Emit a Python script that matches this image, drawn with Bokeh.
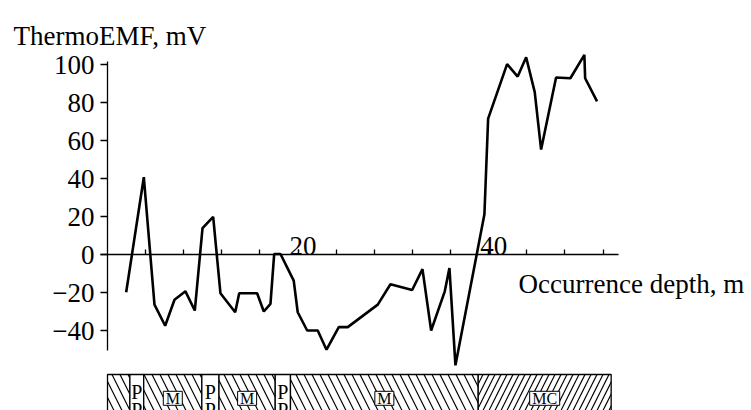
from bokeh.plotting import figure
from bokeh.models import LinearAxis, FixedTicker, Label, Range1d, ColumnDataSource
from bokeh.embed import file_html
from bokeh.resources import INLINE
from bokeh.core.properties import value

# ---- data ----
depth = [1.96, 3.81, 4.93, 6.05, 7.03, 8.18, 9.16, 9.97, 11.09, 11.85, 13.40, 13.82,
         15.70, 16.40, 17.10, 17.49, 18.15, 19.54, 19.96, 20.95, 22.06, 22.98, 24.27,
         25.21, 28.36, 29.69, 31.97, 33.05, 33.96, 35.39, 35.88, 36.51, 39.55, 39.94,
         41.93, 43.04, 43.93, 44.83, 45.50, 47.07, 48.57, 50.04, 50.12, 51.37]
emf = [-19.7, 40.8, -26.2, -37.3, -23.6, -19.2, -29.3, 14.0, 19.9, -20.2, -30.2, -20.2,
       -20.2, -29.8, -25.8, 0.4, 0.4, -13.6, -30.2, -39.8, -39.8, -49.9, -38.0,
       -38.0, -26.2, -15.5, -18.5, -7.5, -39.8, -19.2, -7.0, -58.1, 21.3, 71.6,
       100.2, 93.7, 103.8, 85.5, 55.3, 93.2, 92.8, 105.1, 92.8, 80.6]

y_ticks = [-40, -20, 0, 20, 40, 60, 80, 100]
x_major_ticks = [20, 40]
x_tick_labels = ["20", "40"]
x_minor_ticks = [4, 8, 12, 16, 20, 24, 28, 32, 36, 40, 44, 48, 52]

# lithology column (depth boundaries, rock types, labels)
litho_bounds = [0.0, 2.35, 3.8, 9.9, 11.7, 17.6, 19.2, 38.9, 52.85]
litho_types = ["M", "P", "M", "P", "M", "P", "M", "MC"]
litho_labels = ["", "PP", "M", "PP", "M", "PP", "M", "MC"]

hatch_for = {"M": "\\", "P": " ", "MC": "/"}
hatch_scale_for = {"M": 16, "P": 16, "MC": 12}

FONT = "Liberation Serif"
FS = "27px"

p = figure(width=751, height=410,
           x_range=Range1d(-11.228, 67.576), y_range=Range1d(-81.84, 133.67),
           output_backend="svg", toolbar_location=None,
           x_axis_type=None, y_axis_type=None,
           min_border=0, outline_line_color=None)

# y axis through x = 0
yaxis = LinearAxis(fixed_location=0, ticker=FixedTicker(ticks=y_ticks),
                   bounds=(-50.5, 101.5))
yaxis.axis_line_width = 1.3
yaxis.major_tick_line_width = 1.3
yaxis.major_tick_out = 7
yaxis.major_tick_in = 0
yaxis.minor_tick_line_color = None
yaxis.major_label_text_font = FONT
yaxis.major_label_text_font_size = FS
yaxis.major_label_text_color = "black"
yaxis.major_label_standoff = 6
p.add_layout(yaxis, "left")

# x axis through y = 0
xaxis = LinearAxis(fixed_location=0,
                   ticker=FixedTicker(ticks=x_major_ticks, minor_ticks=x_minor_ticks),
                   bounds=(-0.7, 53.6))
xaxis.axis_line_width = 1.3
xaxis.major_tick_line_width = 1.3
xaxis.minor_tick_line_width = 1.3
xaxis.major_tick_out = 5
xaxis.major_tick_in = 0
xaxis.minor_tick_out = 5
xaxis.minor_tick_in = 0
xaxis.major_label_text_font_size = "0px"
xaxis.major_label_text_color = None
p.add_layout(xaxis, "above")

# x tick labels, set slightly right of and above their ticks as in the original
p.text(x=x_major_ticks, y=4.6, text=x_tick_labels, x_offset=5,
       text_font=value(FONT), text_font_size=FS, text_align="center",
       text_baseline="alphabetic", text_color="black")

# data line
p.line(depth, emf, line_color="black", line_width=2.6)

# lithology column
litho_top = -62.92
lsrc = ColumnDataSource(dict(
    left=litho_bounds[:-1], right=litho_bounds[1:],
    pattern=[hatch_for[t] for t in litho_types],
    scale=[hatch_scale_for[t] for t in litho_types],
))
p.quad(left="left", right="right", top=litho_top, bottom=-100, source=lsrc,
       fill_color="white", line_color="black", line_width=1.3,
       hatch_pattern="pattern", hatch_scale="scale", hatch_color="black",
       hatch_weight=1.2)

mids = [(a + b) / 2 for a, b in zip(litho_bounds[:-1], litho_bounds[1:])]
box_x, box_w, box_t = [], [], []
p_x = []
for m, lab in zip(mids, litho_labels):
    if lab == "PP":
        p_x.append(m)
    elif lab:
        box_x.append(m)
        box_t.append(lab)
        box_w.append(19 if len(lab) == 1 else 30)

p.rect(x=box_x, y=-75.43, width=box_w, height=14, width_units="screen",
       height_units="screen", fill_color="white", line_color="black", line_width=1)
p.text(x=box_x, y=-75.43, text=box_t, text_font=value(FONT), text_font_size="16px",
       text_align="center", text_baseline="middle", text_color="black")
p.text(x=p_x, y=-72.1, text=["P"] * len(p_x), text_font=value(FONT),
       text_font_size="20px", text_align="center", text_baseline="alphabetic",
       text_color="black")
p.text(x=p_x, y=-81.5, text=["P"] * len(p_x), text_font=value(FONT),
       text_font_size="20px", text_align="center", text_baseline="alphabetic",
       text_color="black")

# titles
p.add_layout(Label(x=-9.86, y=115.27, text="ThermoEMF, mV", text_font=FONT,
                   text_font_size=FS, text_baseline="alphabetic",
                   text_align="left", text_color="black"))
p.add_layout(Label(x=43.13, y=-15.24, text="Occurrence depth, m", text_font=FONT,
                   text_font_size=FS, text_baseline="alphabetic",
                   text_align="left", text_color="black"))

open("out.html", "w").write(file_html(p, INLINE))
